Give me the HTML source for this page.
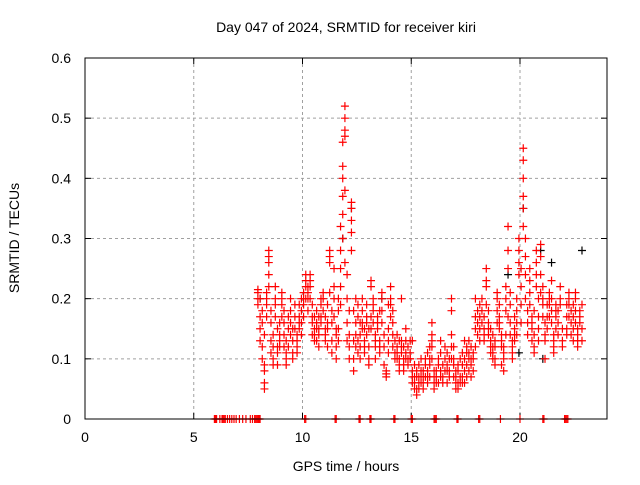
<!DOCTYPE html>
<html><head><meta charset="utf-8"><style>
body{margin:0;background:#fff;}
svg text{font-family:"Liberation Sans",sans-serif;font-size:14px;fill:#000;}
</style></head><body>
<svg id="chart" width="640" height="480" xmlns="http://www.w3.org/2000/svg">
<rect x="0" y="0" width="640" height="480" fill="#fff"/>
<text x="346" y="32" text-anchor="middle">Day 047 of 2024, SRMTID for receiver kiri</text>
<text x="346" y="471" text-anchor="middle">GPS time / hours</text>
<text transform="translate(19,238) rotate(-90)" text-anchor="middle">SRMTID / TECUs</text>
<g id="grid"></g>
<g id="ticks"></g>
<g id="marks-black"></g>
<g id="marks"></g>
<rect x="85" y="58" width="522" height="361" fill="none" stroke="#000" stroke-width="1"/>
</svg>
<script>
const xTicks=[0,5,10,15,20];
const yTicks=[0,0.1,0.2,0.3,0.4,0.5,0.6];
const yTickLabels=["0","0.1","0.2","0.3","0.4","0.5","0.6"];
const clusterTimes=[7.95,8.05,8.15,8.25,8.35,8.45,8.55,8.65,8.75,8.85,8.95,9.05,9.15,9.25,9.35,9.45,9.55,9.65,9.75,9.85,9.95,10.05,10.15,10.25,10.35,10.45,10.55,10.65,10.75,10.85,10.95,11.05,11.15,11.25,11.35,11.45,11.55,11.65,11.75,11.85,11.95,12.05,12.15,12.25,12.35,12.45,12.55,12.65,12.75,12.85,12.95,13.05,13.15,13.25,13.35,13.45,13.55,13.65,13.75,13.85,13.95,14.05,14.15,14.25,14.35,14.45,14.55,14.65,14.75,14.85,14.95,15.05,15.15,15.25,15.35,15.45,15.55,15.65,15.75,15.85,15.95,16.05,16.15,16.25,16.35,16.45,16.55,16.65,16.75,16.85,16.95,17.05,17.15,17.25,17.35,17.45,17.55,17.65,17.75,17.85,17.95,18.05,18.15,18.25,18.35,18.45,18.55,18.65,18.75,18.85,18.95,19.05,19.15,19.25,19.35,19.45,19.55,19.65,19.75,19.85,19.95,20.05,20.15,20.25,20.35,20.45,20.55,20.65,20.75,20.85,20.95,21.05,21.15,21.25,21.35,21.45,21.55,21.65,21.75,21.85,21.95,22.15,22.25,22.35,22.45,22.55,22.65,22.75,22.85];
const clusterValues=[[.21,.2,.19,.215],[.17,.15,.13,.2],[.16,.18,.12,.1],[.14,.09,.06,.05,.08],[.19,.17,.21,.2],[.26,.28,.27,.24,.22],[.18,.16,.13,.11],[.14,.12,.1,.09],[.19,.22,.2,.17],[.12,.09,.11,.15],[.14,.16,.13,.12],[.2,.21,.19,.17],[.18,.16,.14,.12],[.11,.09,.1,.13],[.12,.15,.17],[.18,.2,.16,.14],[.13,.11,.15,.1],[.17,.19,.15],[.12,.14,.11,.13],[.15,.17,.19,.16],[.16,.18,.2,.14],[.19,.21,.2,.17],[.2,.22,.24,.23],[.22,.21,.18,.2],[.23,.2,.24,.22],[.19,.17,.16,.14],[.15,.14,.17,.13],[.16,.18,.13,.15],[.15,.12,.14,.17],[.17,.19,.16,.2],[.18,.2,.21],[.15,.13,.17,.14],[.12,.15,.19,.16],[.27,.28,.26,.21],[.18,.16,.13,.11],[.2,.22,.25,.17],[.14,.12,.1,.15],[.18,.15,.13,.2],[.22,.25,.28,.32,.19],[.34,.37,.4,.42,.46,.3],[.48,.5,.52,.47,.38,.26],[.24,.2,.16,.13],[.14,.12,.1,.18],[.35,.36,.31,.28,.33],[.18,.13,.1,.08],[.16,.14,.12,.2],[.19,.17,.11,.13],[.14,.12,.1,.16],[.16,.18,.2,.15],[.15,.13,.11,.12],[.17,.16,.14,.19],[.12,.1,.15,.09],[.22,.23,.17,.15],[.19,.2,.18,.16],[.14,.12,.1,.13],[.15,.17,.16],[.13,.11,.12,.18],[.2,.18,.16,.21],[.14,.12,.09],[.075,.08,.07],[.11,.13,.15,.19],[.2,.22,.19,.17],[.18,.16,.14,.12],[.1,.11,.13],[.12,.1,.11,.14],[.09,.08,.1,.13],[.11,.13,.12,.2],[.1,.08,.09,.12],[.15,.13,.11,.1],[.09,.1,.12],[.11,.1,.13,.1],[.08,.06,.07,.13],[.09,.06,.07,.05],[.04,.05,.08,.07],[.06,.05,.09,.07],[.07,.06,.08,.1],[.08,.05,.06,.07],[.09,.1,.07],[.08,.06,.11,.07],[.1,.12,.09,.07],[.16,.14,.13,.12,.1],[.07,.06,.08,.05],[.06,.08,.07],[.09,.1,.06],[.07,.08,.11,.13],[.09,.07,.06],[.12,.1,.08],[.09,.11,.08,.06],[.1,.07,.08],[.2,.18,.14,.12,.1],[.09,.07,.1,.12],[.08,.06,.05,.07],[.06,.05,.08,.09],[.07,.06,.1],[.11,.09,.07,.06],[.13,.1,.08,.06],[.12,.09,.07,.11],[.11,.08,.1,.13],[.07,.09,.12,.1],[.08,.1,.11],[.2,.17,.15,.12],[.18,.16,.14],[.19,.17,.15,.13],[.18,.2,.16],[.17,.15,.14,.13],[.25,.23,.22,.19],[.18,.16,.14,.15],[.13,.12,.15,.11],[.14,.12,.1,.11],[.09,.1,.13,.12],[.2,.21,.18,.16],[.15,.17,.19,.16],[.12,.14,.13,.09],[.08,.1,.12,.11],[.18,.2,.22,.14],[.28,.32,.25,.17],[.21,.19,.16,.14],[.13,.12,.1,.11],[.15,.14,.13,.17],[.16,.18,.2,.14],[.28,.26,.3,.24],[.22,.25,.19,.16],[.37,.35,.45,.43,.4,.32],[.3,.27,.24,.2],[.18,.16,.14],[.23,.25,.21,.19],[.17,.15,.13,.16],[.14,.12,.11,.18],[.24,.26,.28,.22],[.2,.17,.15,.13],[.29,.27,.24,.21],[.19,.17,.2,.22],[.16,.14,.13,.1],[.15,.17,.19],[.17,.19,.2,.21],[.23,.2,.18,.16],[.14,.13,.12,.11],[.19,.18,.17,.15],[.16,.18,.14],[.2,.22,.19],[.15,.13,.12],[.17,.19,.15,.14],[.2,.21,.19,.17],[.16,.18,.14],[.19,.17,.15,.13],[.2,.18,.21,.16],[.15,.13,.14,.12],[.18,.17,.16],[.19,.15,.13]];
const zeroTimes=[5.95,6.0,6.05,6.2,6.3,6.35,6.4,6.45,6.55,6.65,6.75,6.85,6.95,7.1,7.25,7.4,7.6,7.7,7.8,7.85,7.9,7.95,8.0,8.05,10.1,10.15,11.5,11.55,12.6,12.65,13.1,13.15,14.2,14.25,15.0,15.05,16.05,16.1,16.15,17.1,17.15,18.1,18.15,19.1,20.0,21.05,21.1,22.05,22.1,22.15,22.2];
const blackTimes=[11.85,12.25,13.65,19.45,20.15,20.95,21.05,22.85,19.95,21.45,8.05];
const blackValues=[.3,.35,.2,.24,.35,.28,.1,.28,.11,.26,.2];

const NS="http://www.w3.org/2000/svg";
function xs(t){return 85+t*(522/24);}
function ys(v){return 419-v*(361/0.6);}
function el(tag,attrs,parent){const e=document.createElementNS(NS,tag);for(const k in attrs)e.setAttribute(k,attrs[k]);parent.appendChild(e);return e;}
const grid=document.getElementById('grid'),ticks=document.getElementById('ticks');
xTicks.forEach(t=>{const x=xs(t);
 if(t>0){const g=el('line',{x1:x,x2:x,y1:58,y2:419,stroke:'#a0a0a0','stroke-dasharray':'3,3'},grid);
 
 }
 el('line',{x1:x,x2:x,y1:419,y2:413,stroke:'#000'},ticks);
 el('line',{x1:x,x2:x,y1:58,y2:64,stroke:'#000'},ticks);
 const tx=el('text',{x:x,y:442,'text-anchor':'middle'},ticks);tx.textContent=t;
 
 });
yTicks.forEach((v,i)=>{const y=ys(v);
 if(v>0&&v<0.6){const g=el('line',{x1:85,x2:607,y1:y,y2:y,stroke:'#a0a0a0','stroke-dasharray':'3,3'},grid);
 
 }
 el('line',{x1:85,x2:91,y1:y,y2:y,stroke:'#000'},ticks);
 el('line',{x1:601,x2:607,y1:y,y2:y,stroke:'#000'},ticks);
 const tx=el('text',{x:71,y:y+5,'text-anchor':'end'},ticks);tx.textContent=yTickLabels[i];
 
 });
function plus(t,v,color,parent){const x=xs(t),y=ys(v);
 const p=el('path',{d:`M${x-4},${y}h8M${x},${y-4}v8`,stroke:color,'stroke-width':1.2,fill:'none'},parent);
 
 }
const red=document.getElementById('marks'),blk=document.getElementById('marks-black');
blackTimes.forEach((t,i)=>plus(t,blackValues[i],'#000',blk));
clusterTimes.forEach((t,i)=>clusterValues[i].forEach(v=>plus(t,v,'#ff0000',red)));
zeroTimes.forEach(t=>plus(t,0,'#ff0000',red));
</script>
</body></html>
